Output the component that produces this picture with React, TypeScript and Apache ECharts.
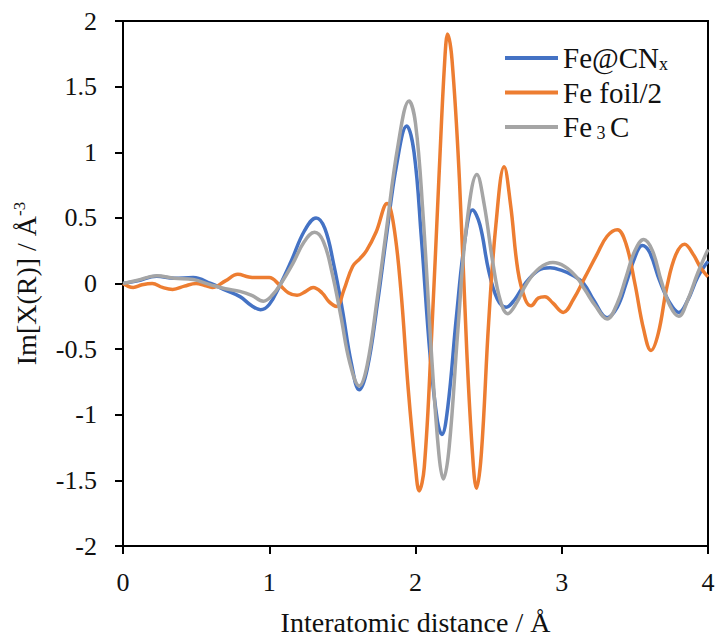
import React, { useEffect, useRef } from "react";
import * as echarts from "echarts";

const seriesNames = ["Fe@CNx", "Fe foil/2", "Fe3C"];
const seriesColors = ["#4472C4", "#ED7D31", "#A5A5A5"];

const feCNx: number[][] = [
  [0.0, 0.0], [0.1, 0.02], [0.23, 0.055], [0.35, 0.04], [0.48, 0.045], [0.6, 0.0],
  [0.7, -0.05], [0.8, -0.1], [0.88, -0.17], [0.94, -0.2], [1.0, -0.16], [1.07, -0.02],
  [1.15, 0.17], [1.24, 0.4], [1.32, 0.5], [1.38, 0.42], [1.44, 0.15], [1.5, -0.2],
  [1.56, -0.6], [1.615, -0.81], [1.67, -0.65], [1.74, -0.15], [1.8, 0.35], [1.87, 0.9],
  [1.94, 1.2], [1.99, 1.0], [2.04, 0.35], [2.1, -0.55], [2.15, -1.05], [2.18, -1.15],
  [2.22, -0.95], [2.28, -0.25], [2.34, 0.35], [2.39, 0.56], [2.44, 0.45], [2.5, 0.1],
  [2.56, -0.12], [2.62, -0.18], [2.68, -0.12], [2.75, 0.0], [2.84, 0.1], [2.92, 0.12],
  [3.0, 0.1], [3.08, 0.06], [3.15, 0.0], [3.22, -0.13], [3.31, -0.26], [3.38, -0.18],
  [3.44, 0.0], [3.5, 0.2], [3.55, 0.29], [3.6, 0.24], [3.67, 0.02], [3.74, -0.15],
  [3.8, -0.22], [3.86, -0.13], [3.93, 0.05], [4.0, 0.17],
];

const feFoil: number[][] = [
  [0.0, 0.0], [0.07, -0.03], [0.13, -0.01], [0.2, 0.0], [0.27, -0.03], [0.34, -0.045],
  [0.42, -0.02], [0.5, 0.0], [0.56, -0.015], [0.61, -0.03], [0.7, 0.02], [0.785, 0.07],
  [0.86, 0.05], [0.93, 0.045], [1.0, 0.045], [1.07, -0.01], [1.13, -0.07], [1.19, -0.09],
  [1.25, -0.06], [1.3, -0.03], [1.36, -0.07], [1.41, -0.14], [1.46, -0.175], [1.51, -0.05],
  [1.57, 0.13], [1.62, 0.19], [1.665, 0.25], [1.73, 0.39], [1.806, 0.61], [1.85, 0.45],
  [1.9, -0.05], [1.95, -0.8], [2.0, -1.4], [2.025, -1.58], [2.06, -1.4], [2.11, -0.4],
  [2.16, 0.8], [2.2, 1.7], [2.22, 1.9], [2.25, 1.7], [2.3, 0.8], [2.35, -0.5],
  [2.39, -1.3], [2.417, -1.56], [2.45, -1.3], [2.5, -0.3], [2.55, 0.45], [2.606, 0.89],
  [2.65, 0.6], [2.7, 0.1], [2.75, -0.12], [2.79, -0.17], [2.84, -0.11], [2.885, -0.1],
  [2.94, -0.15], [3.01, -0.22], [3.08, -0.12], [3.16, 0.05], [3.24, 0.22], [3.31, 0.36],
  [3.38, 0.41], [3.44, 0.3], [3.5, 0.0], [3.56, -0.35], [3.61, -0.51], [3.66, -0.38],
  [3.72, -0.02], [3.78, 0.22], [3.84, 0.3], [3.9, 0.22], [3.95, 0.12], [4.0, 0.05],
];

const fe3C: number[][] = [
  [0.0, 0.0], [0.1, 0.025], [0.23, 0.06], [0.35, 0.04], [0.48, 0.03], [0.6, -0.01],
  [0.7, -0.04], [0.8, -0.06], [0.88, -0.09], [0.96, -0.135], [1.02, -0.09], [1.08, 0.0],
  [1.16, 0.15], [1.24, 0.32], [1.31, 0.39], [1.37, 0.32], [1.43, 0.08], [1.49, -0.25],
  [1.55, -0.6], [1.615, -0.78], [1.67, -0.62], [1.74, -0.1], [1.8, 0.4], [1.88, 1.05],
  [1.956, 1.39], [2.0, 1.22], [2.05, 0.55], [2.11, -0.55], [2.16, -1.3], [2.19, -1.49],
  [2.23, -1.25], [2.29, -0.35], [2.35, 0.45], [2.42, 0.83], [2.47, 0.6], [2.53, 0.15],
  [2.58, -0.13], [2.63, -0.23], [2.69, -0.15], [2.76, 0.0], [2.85, 0.12], [2.94, 0.16],
  [3.02, 0.13], [3.1, 0.05], [3.16, -0.05], [3.23, -0.17], [3.31, -0.27], [3.38, -0.15],
  [3.44, 0.05], [3.5, 0.25], [3.56, 0.335], [3.62, 0.25], [3.68, 0.02], [3.74, -0.17],
  [3.8, -0.25], [3.86, -0.13], [3.93, 0.08], [4.0, 0.26],
];

const seriesData = [feCNx, feFoil, fe3C];

const legendLabels: Record<string, string> = {
  "Fe@CNx": "{m|Fe@CN}{s|x}",
  "Fe foil/2": "{m|Fe foil/2}",
  "Fe3C": "{m|Fe}{s| 3 }{m|C}",
};

const FONT = "'Liberation Serif', 'DejaVu Serif', serif";

export default function App() {
  const ref = useRef<HTMLDivElement>(null);
  useEffect(() => {
    if (!ref.current) return;
    const chart = echarts.init(ref.current, null, { renderer: "svg" });
    const axisLine = { show: true, onZero: false, lineStyle: { color: "#000", width: 2 } };
    const axisTick = { show: true, inside: false, length: 8, lineStyle: { color: "#000", width: 2 } };
    chart.setOption({
      animation: false,
      backgroundColor: "#fff",
      grid: {
        left: 123,
        right: 13,
        top: 21,
        bottom: 96,
        containLabel: false,
        show: true,
        borderColor: "#000",
        borderWidth: 2,
      },
      legend: {
        orient: "vertical",
        left: 505,
        top: 43,
        padding: 0,
        itemWidth: 53,
        itemHeight: 4,
        itemGap: 5,
        icon: "rect",
        data: seriesNames,
        formatter: (name: string) => legendLabels[name] ?? name,
        textStyle: {
          color: "#111",
          fontFamily: FONT,
          rich: {
            m: { fontSize: 29, fontFamily: FONT, color: "#111", lineHeight: 30 },
            s: { fontSize: 18, fontFamily: FONT, color: "#111", lineHeight: 30, verticalAlign: "bottom", padding: [12, 0, 0, 0] },
          },
        },
      },
      xAxis: {
        type: "value",
        min: 0,
        max: 4,
        interval: 1,
        axisLine,
        axisTick,
        splitLine: { show: false },
        axisLabel: { color: "#111", fontSize: 26, fontFamily: FONT, margin: 23 },
        name: "Interatomic distance / Å",
        nameLocation: "middle",
        nameGap: 62,
        nameTextStyle: { color: "#111", fontSize: 28, fontFamily: FONT },
      },
      yAxis: {
        type: "value",
        min: -2,
        max: 2,
        interval: 0.5,
        axisLine,
        axisTick,
        splitLine: { show: false },
        axisLabel: { color: "#111", fontSize: 26, fontFamily: FONT, margin: 26 },
        name: "Im[X(R)] / Å{sup|-3}",
        nameLocation: "middle",
        nameGap: 81,
        nameTextStyle: {
          color: "#111",
          fontSize: 28,
          fontFamily: FONT,
          rich: {
            sup: { fontSize: 17, fontFamily: FONT, color: "#111", verticalAlign: "top", padding: [0, 0, 14, 0] },
          },
        },
      },
      series: seriesNames.map((name, i) => ({
        name,
        type: "line",
        data: seriesData[i],
        showSymbol: false,
        symbol: "none",
        smooth: 0.4,
        lineStyle: { color: seriesColors[i], width: 3.5 },
        itemStyle: { color: seriesColors[i] },
      })),
    });
    return () => chart.dispose();
  }, []);
  return <div ref={ref} style={{ width: 721, height: 642, position: "absolute", left: 0, top: 0 }} />;
}
